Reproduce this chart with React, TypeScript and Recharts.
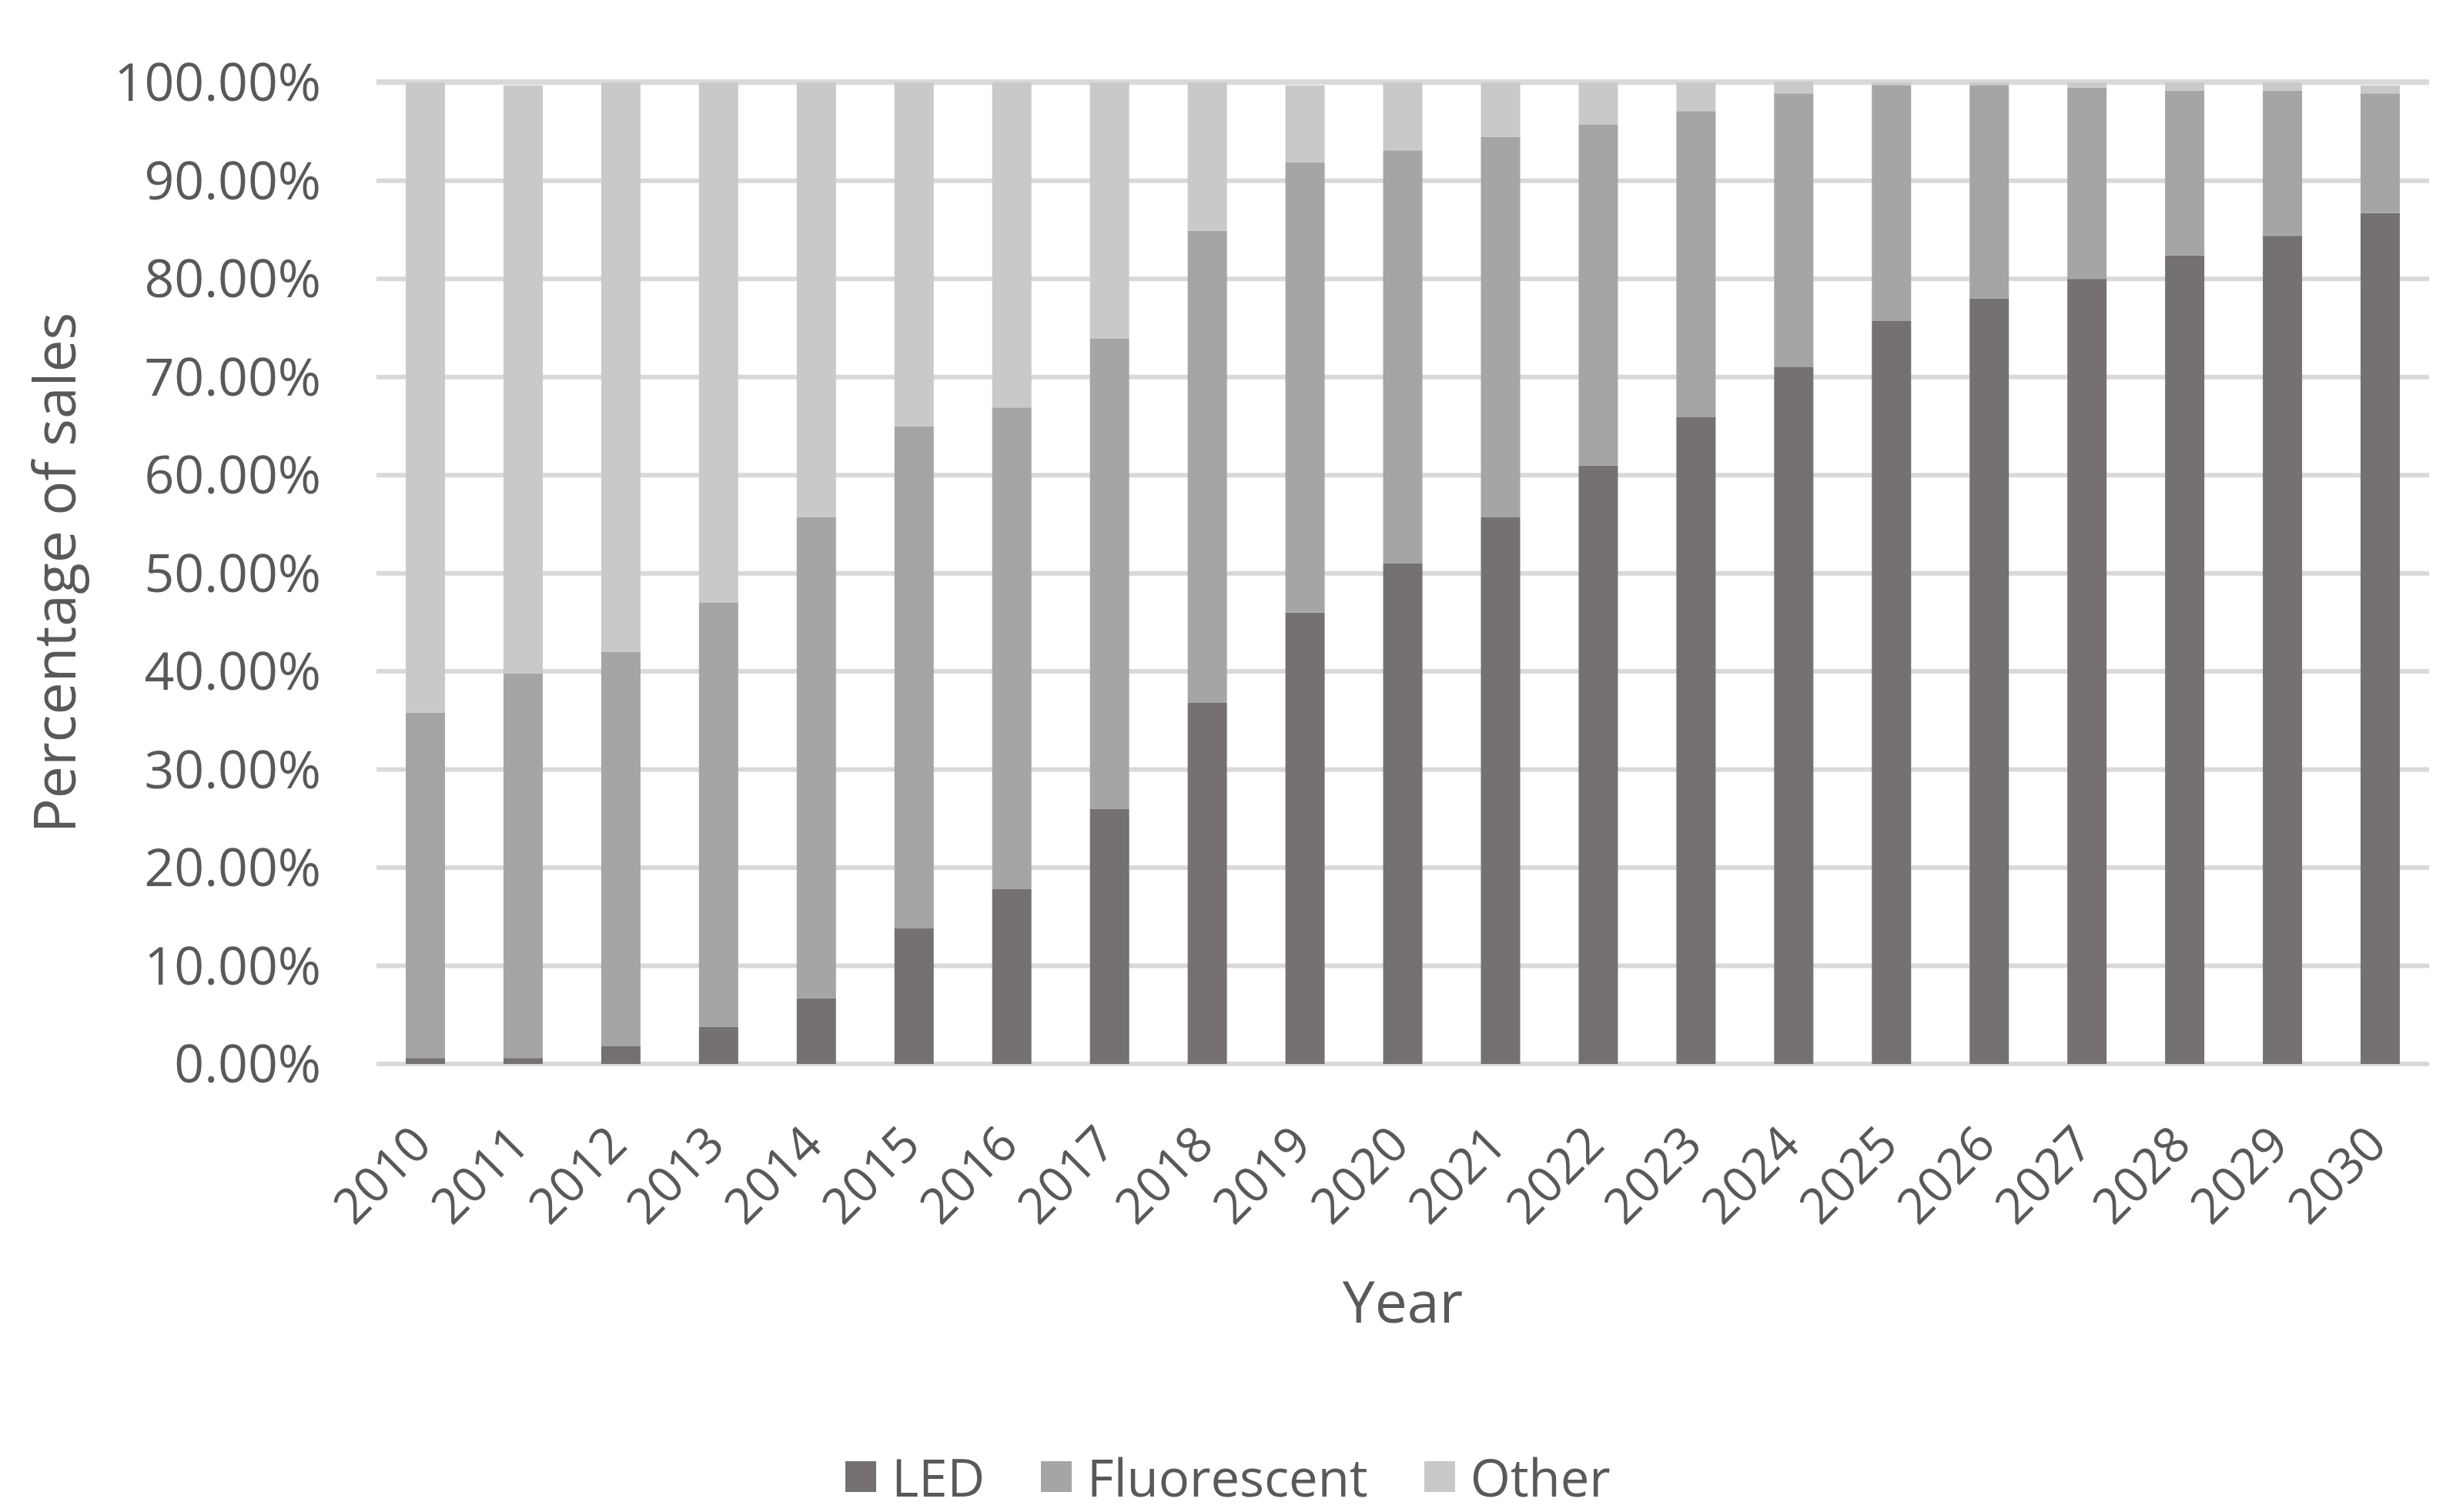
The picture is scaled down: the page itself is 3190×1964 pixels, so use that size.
import { BarChart, Bar, XAxis, YAxis, CartesianGrid, Legend } from "recharts";

const YEARS = [
  "2010", "2011", "2012", "2013", "2014", "2015", "2016", "2017", "2018", "2019", "2020",
  "2021", "2022", "2023", "2024", "2025", "2026", "2027", "2028", "2029", "2030",
];
const LED = [0.6, 0.6, 1.8, 3.8, 6.7, 13.8, 17.8, 26.0, 36.8, 46.0, 51.0, 55.7, 61.0, 65.9, 71.0, 75.7, 78.0, 80.0, 82.4, 84.4, 86.7];
const FLUORESCENT = [35.2, 39.2, 40.2, 43.2, 49.0, 51.2, 49.1, 47.9, 48.1, 45.9, 42.1, 38.8, 34.7, 31.2, 27.9, 24.0, 21.7, 19.5, 16.8, 14.8, 12.2];
const OTHER = [64.2, 59.9, 58.0, 53.0, 44.3, 35.0, 33.1, 26.1, 15.1, 7.8, 6.9, 5.5, 4.3, 2.9, 1.2, 0.3, 0.3, 0.5, 0.8, 0.8, 0.8];
const Y_TICKS = [0, 10, 20, 30, 40, 50, 60, 70, 80, 90, 100];
const SERIES = ["LED", "Fluorescent", "Other"];

const FONT = "'Open Sans', sans-serif";
const TEXT = "#595959";

const data = YEARS.map((year, i) => ({
  year,
  led: LED[i],
  fluorescent: FLUORESCENT[i],
  other: OTHER[i],
}));

function YearTick(props: any) {
  const { x, y, payload } = props;
  const tx = x + 11;
  const ty = y + 108;
  return (
    <text
      x={tx}
      y={ty}
      textAnchor="end"
      transform={`rotate(-45, ${tx}, ${ty})`}
      fill={TEXT}
      fontSize={64}
      fontFamily={FONT}
    >
      {payload.value}
    </text>
  );
}

function XTitle(props: any) {
  const { viewBox } = props;
  return (
    <text
      x={viewBox.x + viewBox.width / 2}
      y={viewBox.y + 336}
      textAnchor="middle"
      fill={TEXT}
      fontSize={75}
      fontFamily={FONT}
    >
      Year
    </text>
  );
}

function YTitle(props: any) {
  const { viewBox } = props;
  const cx = 98;
  const cy = viewBox.y + viewBox.height / 2;
  return (
    <text
      x={cx}
      y={cy}
      textAnchor="middle"
      transform={`rotate(-90, ${cx}, ${cy})`}
      fill={TEXT}
      fontSize={75}
      fontFamily={FONT}
    >
      Percentage of sales
    </text>
  );
}

function LegendContent(props: any) {
  // keep the series order, recharts sorts by name
  const items = [...(props.payload ?? [])].sort(
    (a: any, b: any) => SERIES.indexOf(a.value) - SERIES.indexOf(b.value)
  );
  return (
    <div
      style={{
        display: "flex",
        justifyContent: "center",
        alignItems: "center",
        height: 80,
        fontFamily: FONT,
        fontSize: 67,
        color: TEXT,
      }}
    >
      {items.map((p: any, i: number) => (
        <div key={p.value} style={{ display: "flex", alignItems: "center", marginLeft: i ? 73 : 0 }}>
          <div style={{ width: 40, height: 40, background: p.color, marginRight: 20 }} />
          <span>{p.value}</span>
        </div>
      ))}
    </div>
  );
}

export default function App() {
  return (
    <div style={{ position: "absolute", left: 0, top: 0, width: 3190, height: 1964, background: "#fff" }}>
      <BarChart
        width={3190}
        height={1964}
        data={data}
        margin={{ top: 106, right: 35, left: 0, bottom: 302 }}
      >
        <CartesianGrid vertical={false} stroke="#D9D9D9" strokeWidth={6} />
        <XAxis
          dataKey="year"
          interval={0}
          height={200}
          axisLine={false}
          tickLine={false}
          tickSize={0}
          tickMargin={0}
          tick={<YearTick />}
          label={<XTitle />}
        />
        <YAxis
          width={489}
          domain={[0, 100]}
          ticks={Y_TICKS}
          axisLine={false}
          tickLine={false}
          tickSize={0}
          tickMargin={72}
          tickFormatter={(v: number) => `${v.toFixed(2)}%`}
          tick={{ fill: TEXT, fontSize: 68, fontFamily: FONT }}
          label={<YTitle />}
        />
        <Legend
          content={<LegendContent />}
          verticalAlign="bottom"
          wrapperStyle={{ left: 0, width: 3190, top: 1878, bottom: "auto" }}
        />
        <Bar dataKey="led" name="LED" stackId="a" fill="#767171" barSize={51} isAnimationActive={false} />
        <Bar dataKey="fluorescent" name="Fluorescent" stackId="a" fill="#A5A5A5" barSize={51} isAnimationActive={false} />
        <Bar dataKey="other" name="Other" stackId="a" fill="#C9C9C9" barSize={51} isAnimationActive={false} />
      </BarChart>
    </div>
  );
}
